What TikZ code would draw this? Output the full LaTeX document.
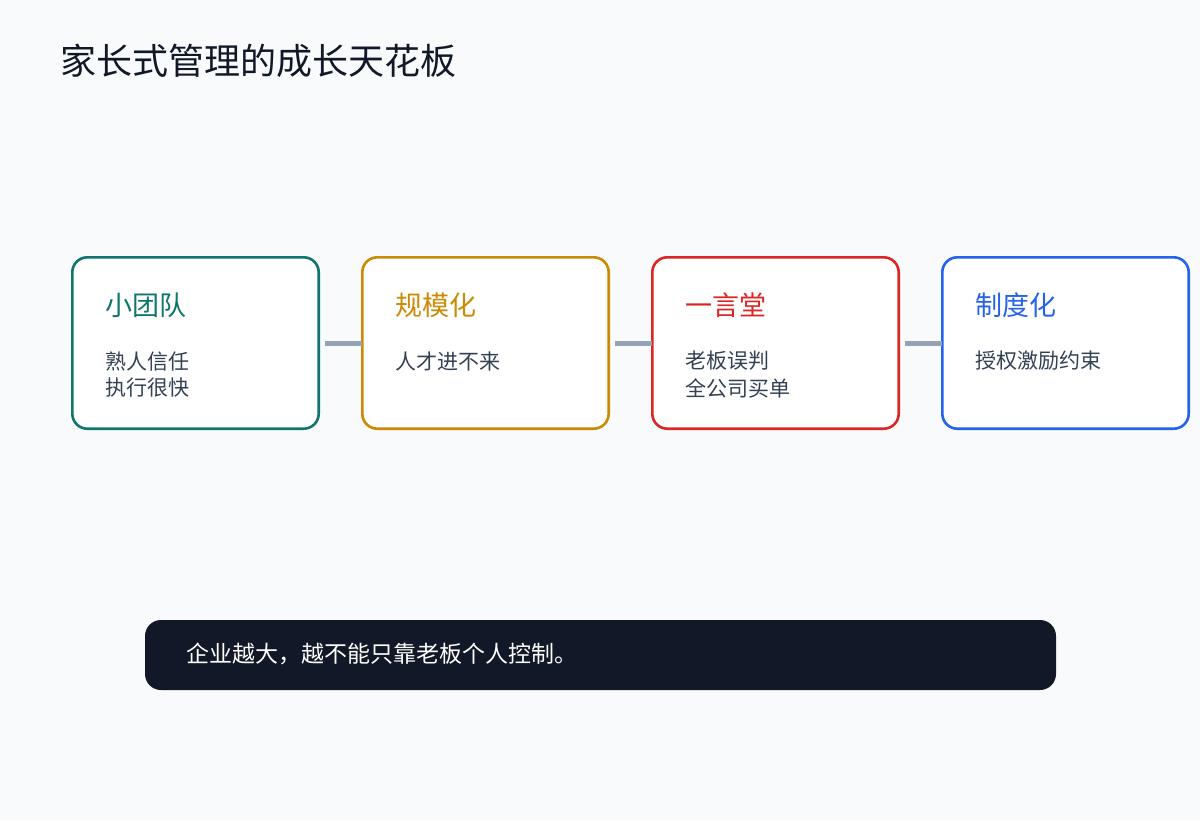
\documentclass[tikz,border=0pt]{standalone}
\usepackage{fontspec}
\setmainfont{Noto Sans CJK SC}
\definecolor{bg}{HTML}{F8FAFC}
\definecolor{cteal}{HTML}{0F766E}
\definecolor{camber}{HTML}{CA8A04}
\definecolor{cred}{HTML}{DC2626}
\definecolor{cblue}{HTML}{2563EB}
\definecolor{cbody}{HTML}{334155}
\definecolor{ctitle}{HTML}{111827}
\definecolor{cline}{HTML}{94A3B8}
\definecolor{cdark}{HTML}{111827}
\tikzset{
  stagebox/.style={draw=#1, line width=2.6pt, fill=white, rounded corners=15pt, minimum width=246.4pt, minimum height=171.4pt, inner sep=0pt, outer sep=0pt, anchor=north west},
  stagetitle/.style={text=#1, font=\fontsize{27}{30}\selectfont, anchor=west, inner sep=0pt},
  stagebody/.style={text=cbody, font=\fontsize{21}{26}\selectfont, anchor=west, inner sep=0pt},
  link/.style={draw=cline, line width=5pt},
}
\begin{document}
\begin{tikzpicture}[x=1pt,y=-1pt]
\fill[bg] (0,0) rectangle (1200,820);
\useasboundingbox (0,0) rectangle (1200,820);
\node[anchor=west, inner sep=0pt, text=ctitle, font=\fontsize{36}{40}\selectfont] (title) at (60,61) {家长式管理的成长天花板};

\node[stagebox=cteal] (b1) at (72.3,257.3) {};
\node[stagebox=camber] (b2) at (362.3,257.3) {};
\node[stagebox=cred] (b3) at (652.3,257.3) {};
\node[stagebox=cblue] (b4) at (942.3,257.3) {};

\node[stagetitle=cteal] (t1) at (105,305) {小团队};
\node[stagebody] (d1a) at (105,361) {熟人信任};
\node[stagebody] (d1b) at (105,388) {执行很快};

\node[stagetitle=camber] (t2) at (395,305) {规模化};
\node[stagebody] (d2a) at (395,361) {人才进不来};

\node[stagetitle=cred] (t3) at (685,305) {一言堂};
\node[stagebody] (d3a) at (685,361) {老板误判};
\node[stagebody] (d3b) at (685,388) {全公司买单};

\node[stagetitle=cblue] (t4) at (975,305) {制度化};
\node[stagebody] (d4a) at (975,361) {授权激励约束};

\draw[link] ([xshift=6.3pt]b1.east) -- (b2.west);
\draw[link] ([xshift=6.3pt]b2.east) -- (b3.west);
\draw[link] ([xshift=6.3pt]b3.east) -- (b4.west);

\node[fill=cdark, rounded corners=16pt, minimum width=911pt, minimum height=70pt, inner sep=0pt, outer sep=0pt, anchor=north west] (note) at (145,620) {};
\node[anchor=west, inner sep=0pt, text=white, font=\fontsize{23}{26}\selectfont] (notetext) at (186,654) {企业越大，越不能只靠老板个人控制。};
\end{tikzpicture}
\end{document}
